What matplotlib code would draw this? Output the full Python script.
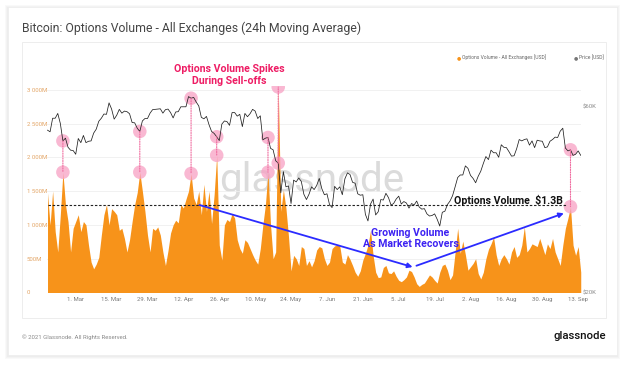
import matplotlib
matplotlib.use('Agg')
import matplotlib.pyplot as plt
import matplotlib.patches as mpatches
import matplotlib.dates as mdates
from matplotlib.patches import ConnectionPatch
from matplotlib.ticker import NullLocator
import pandas as pd

W, H = 624, 365

# ---------------- data ----------------
start_date = '2021-02-18'
volume_musd = [
    1470, 1000, 1500, 900, 600, 1150, 1780, 1300, 1050, 600,
    950, 1050, 1150, 900, 1050, 1000, 700, 450, 350, 420,
    520, 850, 1150, 1300, 1000, 1240, 1200, 1150, 920, 950,
    800, 600, 780, 1050, 1300, 1480, 1780, 1500, 1200, 850,
    600, 950, 920, 970, 850, 600, 400, 620, 880, 1000,
    1070, 1030, 1300, 1250, 1380, 1500, 1760, 1400, 1300, 1500,
    1150, 1600, 1200, 1500, 1020, 1450, 2030, 700, 480, 1000,
    1080, 1050, 1170, 1100, 780, 650, 580, 780, 740, 650,
    560, 480, 420, 650, 1000, 1300, 1780, 1000, 500, 600,
    3040, 1200, 1520, 1250, 830, 320, 550, 500, 400, 680,
    650, 400, 470, 380, 470, 630, 680, 660, 500, 400,
    450, 650, 690, 700, 690, 450, 420, 560, 490, 400,
    300, 240, 320, 480, 580, 700, 920, 550, 300, 220,
    230, 370, 400, 290, 280, 320, 240, 180, 160, 190,
    230, 330, 310, 230, 130, 90, 120, 140, 200, 260,
    230, 180, 140, 300, 400, 420, 330, 190, 260, 600,
    950, 580, 760, 560, 330, 380, 430, 500, 280, 200,
    300, 500, 640, 720, 820, 560, 400, 500, 560, 500,
    420, 600, 680, 520, 560, 700, 970, 600, 650, 720,
    700, 680, 800, 680, 560, 720, 650, 800, 600, 500,
    400, 700, 950, 1100, 1270, 700, 550, 680, 300,
]
price_kusd = [
    52.1, 51.6, 55.9, 55.9, 57.5, 54.2, 48.9, 49.7, 47.1, 46.3, 46.2, 45.2,
    49.6, 48.4, 50.5, 48.4, 48.8, 48.9, 51.2, 52.4, 54.9, 55.9, 57.3, 57.2,
    61.2, 59.0, 55.6, 56.9, 58.9, 57.6, 58.3, 58.1, 57.4, 54.5, 54.4, 52.7,
    51.7, 55.0, 55.8, 55.8, 57.6, 58.8, 58.9,
    59.0, 59.1, 57.6, 58.8, 59.0, 57.8, 56.0, 58.0, 58.1, 59.8, 59.8, 59.8,
    63.5, 62.9, 63.2, 61.5, 60.1, 56.2, 55.7, 56.5, 53.8, 51.7, 51.1, 50.1,
    49.0, 54.0, 55.0, 54.8, 53.6, 57.8,
    57.8, 56.6, 57.2, 53.2, 57.5, 56.4, 57.4, 58.9, 58.3, 55.8, 56.7, 49.2,
    49.7, 49.9, 46.8, 46.4, 43.5, 42.9, 36.0, 40.8, 37.3, 37.5, 33.8, 38.8,
    38.4, 39.3, 38.5, 35.7, 34.6, 35.7, 37.3,
    36.7, 37.6, 39.2, 36.9, 35.6, 35.8, 33.6, 33.0, 37.4, 36.7, 37.3, 35.6,
    39.1, 40.5, 40.1, 38.3, 38.1, 35.8, 35.5, 35.6, 31.7, 30.5, 33.7, 34.7,
    31.6, 32.2, 34.6, 34.5, 35.9, 35.0,
    33.5, 33.8, 34.7, 35.3, 33.7, 34.2, 33.9, 32.9, 33.8, 33.5, 34.3, 33.1,
    32.7, 32.8, 31.8, 31.4, 31.5, 31.8, 30.8, 29.6, 32.1, 32.3, 33.6, 34.3,
    35.4, 37.3, 39.4, 40.0, 40.0, 42.2, 41.6,
    39.9, 39.2, 38.2, 39.7, 40.9, 42.8, 44.6, 43.8, 46.3, 45.6, 45.6, 44.4,
    47.8, 47.1, 47.0, 45.9, 44.7, 44.8, 46.7, 49.3, 48.9, 49.3, 49.5, 47.7,
    48.9, 47.0, 49.1, 48.9, 48.8, 47.0, 47.2,
    48.8, 49.3, 50.0, 49.9, 51.8, 52.7, 46.9, 46.1, 46.4, 44.9, 45.2, 46.1,
    44.9,
]
tick_dates = ['2021-03-01', '2021-03-15', '2021-03-29', '2021-04-12', '2021-04-26',
              '2021-05-10', '2021-05-24', '2021-06-07', '2021-06-21', '2021-07-05',
              '2021-07-19', '2021-08-02', '2021-08-16', '2021-08-30', '2021-09-13']
tick_labels = ['1. Mar', '15. Mar', '29. Mar', '12. Apr', '26. Apr', '10. May', '24. May',
               '7. Jun', '21. Jun', '5. Jul', '19. Jul', '2. Aug', '16. Aug', '30. Aug',
               '13. Sep']
vol_ticks = [0, 500, 1000, 1500, 2000, 2500, 3000]
vol_tick_labels = ['0', '500M', '1 000M', '1 500M', '2 000M', '2 500M', '3 000M']
price_ticks = [20, 60]
price_tick_labels = ['$20K', '$60K']
highlight_idx = [6, 36, 56, 66, 86, 90, 204]
avg_level = 1290

dates = mdates.date2num(pd.date_range(start_date, periods=len(volume_musd), freq='D').to_pydatetime())
d0 = dates[0]

ORANGE = '#f7931a'
PINK = '#f7a1c4'

fig = plt.figure(figsize=(W / 100, H / 100), dpi=100)
fig.patch.set_facecolor('white')


def F(x, y):
    return (x / W, 1 - y / H)


def rect(x0, y0, x1, y1, **kw):
    r = mpatches.Rectangle((x0 / W, 1 - y1 / H), (x1 - x0) / W, (y1 - y0) / H,
                           transform=fig.transFigure, **kw)
    fig.add_artist(r)
    return r


# card with soft shadow
for g in (1, 2, 3):
    rect(8 - g, 7 - g + 1, 617 + g, 355 + g + 1, facecolor='#000000', alpha=0.025,
         edgecolor='none', zorder=-12)
rect(8, 7, 617, 355, facecolor='white', edgecolor='#ececec', lw=0.5, zorder=-11)
rect(22, 42, 606, 318, facecolor='white', edgecolor='#ededed', lw=0.7, zorder=-10)

# titles / footer
fig.text(*F(22, 28), 'Bitcoin: Options Volume - All Exchanges (24h Moving Average)',
         fontsize=8.8, color='#454545', va='center', ha='left', family='Roboto')
fig.text(*F(22, 337), '\u00a9 2021 Glassnode. All Rights Reserved.', fontsize=4.3,
         color='#8a8a8a', va='center', ha='left', family='Roboto')
fig.text(*F(606, 336), 'glassnode', fontsize=8.2, color='#111111', va='center',
         ha='right', family='Roboto', weight='medium')

# legend
fig.text(*F(459, 57.5), '\u25cf', fontsize=3.5, color=ORANGE, va='center', ha='center')
fig.text(*F(462, 57.5), 'Options Volume - All Exchanges [USD]', fontsize=3.6,
         color='#666666', va='center', ha='left', family='Roboto')
fig.text(*F(576, 57.5), '\u25cf', fontsize=3.5, color='#777777', va='center', ha='center')
fig.text(*F(579, 57.5), 'Price [USD]', fontsize=3.6, color='#666666', va='center',
         ha='left', family='Roboto')

# axes
ax = fig.add_axes([47 / W, 1 - 292.5 / H, 534 / W, 206.5 / H])
ax2 = ax.twinx()
ax.set_xlim(d0 - 0.2, d0 + 208.1)
ax.set_ylim(0, 3055)
ax2.set_yscale('log')
ax2.set_ylim(20, 67.6)
for a in (ax, ax2):
    for s in a.spines.values():
        s.set_visible(False)
    a.patch.set_visible(False)

ax.set_yticks(vol_ticks)
ax.set_yticklabels(vol_tick_labels)
ax.tick_params(axis='y', length=0, pad=14.4, labelsize=4.3, labelcolor='#e3a566')
for lbl in ax.get_yticklabels():
    lbl.set_ha('left')
    lbl.set_family('Roboto')
ax.grid(axis='y', color='#efefef', lw=0.6)
ax.set_axisbelow(True)

ax.set_xticks(mdates.date2num(pd.to_datetime(tick_dates).to_pydatetime()))
ax.set_xticklabels(tick_labels)
ax.tick_params(axis='x', length=0, pad=3.5, labelsize=4.3, labelcolor='#7a7a7a')
for lbl in ax.get_xticklabels():
    lbl.set_family('Roboto')

ax2.set_yticks(price_ticks)
ax2.set_yticklabels(price_tick_labels)
ax2.yaxis.set_minor_locator(NullLocator())
ax2.tick_params(axis='y', length=0, pad=1.5, labelsize=4.3, labelcolor='#8a8a8a')
for lbl in ax2.get_yticklabels():
    lbl.set_family('Roboto')

# watermark
ax.text(0.496, 0.54, 'glassnode', transform=ax.transAxes, fontsize=29, color='#cfcfcf',
        alpha=0.75, ha='center', va='center', family='Roboto', zorder=0.5)

# series
ax.fill_between(dates, volume_musd, 0, color=ORANGE, lw=0, zorder=2)
ax2.plot(dates, price_kusd, color='#202020', lw=0.55, zorder=3)

# highlights
hd = [dates[i] for i in highlight_idx]
hv = [volume_musd[i] for i in highlight_idx]
hp = [price_kusd[i] for i in highlight_idx]
ax.scatter(hd, hv, s=95, color=PINK, alpha=0.75, edgecolor='none', zorder=4)
ax2.scatter(hd, hp, s=95, color=PINK, alpha=0.75, edgecolor='none', zorder=2)
for d, v, p in zip(hd, hv, hp):
    cp = ConnectionPatch(xyA=(d, p), coordsA=ax2.transData, xyB=(d, v), coordsB=ax.transData,
                         color='#f06a9e', lw=0.8, linestyle=(0, (1, 1.2)), zorder=3)
    fig.add_artist(cp)

# average level
ax.hlines(avg_level, d0, d0 + 202.7, colors='#222222', linestyles=(0, (2.2, 1.6)),
          lw=0.8, zorder=5)

# blue arrows
arrow_kw = dict(arrowstyle='-|>', color='#2b2bff', lw=1.3, mutation_scale=7,
                shrinkA=0, shrinkB=0)
ax.annotate('', xy=(d0 + 142.4, 377), xytext=(d0 + 59.3, 1294),
            arrowprops=arrow_kw, zorder=6)
ax.annotate('', xy=(d0 + 201.4, 1172), xytext=(d0 + 143.9, 396),
            arrowprops=arrow_kw, zorder=6)

# annotation texts
fig.text(*F(229.5, 69), 'Options Volume Spikes', fontsize=7.6, weight='bold', color='#ee1c64',
         ha='center', va='center', family='Roboto')
fig.text(*F(229.5, 81), 'During Sell-offs', fontsize=7.6, weight='bold', color='#ee1c64',
         ha='center', va='center', family='Roboto')
fig.text(*F(454, 203.5), 'Options Volume  $1.3B', fontsize=7.6, weight='bold', color='#111111',
         ha='left', va='baseline', family='Roboto')
fig.text(*F(410.5, 232.7), 'Growing Volume', fontsize=7.6, weight='bold', color='#3d22f2',
         ha='center', va='center', family='Roboto')
fig.text(*F(411, 244.3), 'As Market Recovers', fontsize=7.6, weight='bold', color='#3d22f2',
         ha='center', va='center', family='Roboto')

fig.savefig('out.png', dpi=100, facecolor=fig.get_facecolor())
